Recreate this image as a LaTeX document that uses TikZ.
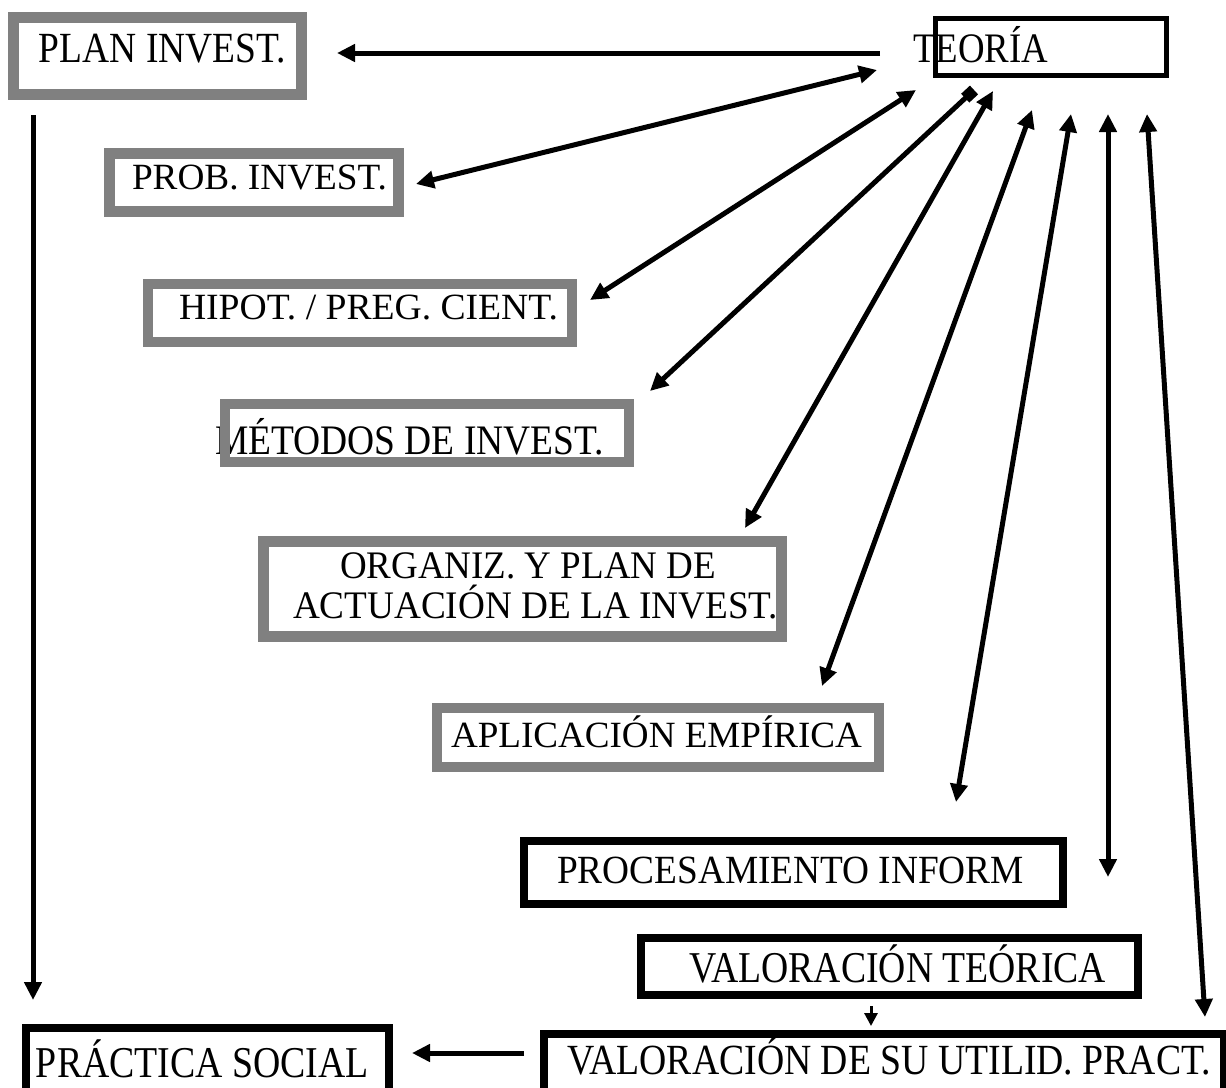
\documentclass[tikz,border=0pt]{standalone}
\usepackage{fontspec}
\setmainfont{Liberation Serif}
\usetikzlibrary{arrows.meta}

% text set at a given size and squeezed to a given width
\newcommand\fitt[3]{\resizebox{#1bp}{\height}{\fontsize{#2bp}{#2bp}\selectfont #3}}

\tikzset{
  txt/.style={anchor=base west, inner sep=0pt, outer sep=0pt},
  boxbase/.style={rectangle, inner sep=0pt, outer sep=0pt, draw},
  graybox/.style={boxbase, draw={rgb,255:red,128;green,128;blue,128}, line width=11bp},
  blackbox/.style={boxbase, draw=black, line width=8bp},
  conn/.style={line width=5bp, draw=black},
  one/.style={conn, -{Triangle[length=18bp, width=17bp]}},
  two/.style={conn, {Triangle[length=18bp, width=17bp]}-{Triangle[length=18bp, width=17bp]}},
}

\begin{document}
\begin{tikzpicture}[x=1bp, y=-1bp]
\useasboundingbox (0,0) rectangle (1226,1088);
\clip (0,0) rectangle (1226,1088);

% ---- labels ----
\node[txt] (tplan)  at (39,62)    {\fitt{247}{43}{PLAN INVEST.}};
\node[txt] (tteo)   at (913,62)   {\fitt{135}{42}{TEORÍA}};
\node[txt] (tprob)  at (132,189)  {\fitt{255}{37}{PROB. INVEST.}};
\node[txt] (thip)   at (179,319)  {\fitt{379}{37}{HIPOT. / PREG. CIENT.}};
\node[txt] (tmet)   at (215,454)  {\fitt{389}{42}{MÉTODOS DE INVEST.}};
\node[txt] (torg1)  at (340,578)  {\fitt{376}{39}{ORGANIZ. Y PLAN DE}};
\node[txt] (torg2)  at (293,618)  {\fitt{485}{39}{ACTUACIÓN DE LA INVEST.}};
\node[txt] (tapl)   at (451,747)  {\fitt{411}{37}{APLICACIÓN EMPÍRICA}};
\node[txt] (tpro)   at (557,883)  {\fitt{467}{40}{PROCESAMIENTO INFORM}};
\node[txt] (tvt)    at (689,982)  {\fitt{417}{44}{VALORACIÓN TEÓRICA}};
\node[txt] (tvu)    at (567,1074) {\fitt{644}{43}{VALORACIÓN DE SU UTILID. PRACT.}};
\node[txt] (tps)    at (36,1077)  {\fitt{333}{44}{PRÁCTICA SOCIAL}};

% ---- frames (drawn over the labels) ----
\node[graybox, minimum width=288bp, minimum height=77bp] (plan) at (157.5,56) {};
\node[graybox, minimum width=289bp, minimum height=58bp] (prob) at (254,182.5) {};
\node[graybox, line width=10bp, minimum width=424bp, minimum height=58bp] (hip) at (360,313) {};
\node[graybox, line width=10bp, minimum width=404bp, minimum height=58bp] (met) at (427,433) {};
\node[graybox, minimum width=518bp, minimum height=95bp] (org) at (522.5,589) {};
\node[graybox, line width=10bp, minimum width=442bp, minimum height=59bp] (apl) at (658,737.5) {};
\node[blackbox, line width=5bp, minimum width=231bp, minimum height=57bp] (teo) at (1051,47) {};
\node[blackbox, minimum width=539bp, minimum height=63bp] (pro) at (793.5,872.5) {};
\node[blackbox, minimum width=497bp, minimum height=57bp] (vt) at (889.5,966.5) {};
\node[blackbox, minimum width=680bp, minimum height=73bp] (vu) at (884,1070.5) {};
\node[blackbox, minimum width=363bp, minimum height=80bp] (ps) at (207.5,1068) {};

% ---- connector ends ----
\coordinate (teoL)  at (880,53);
\coordinate (planR) at (337,53);
\coordinate (teo1)  at (877,70);
\coordinate (prob1) at (416,184);
\coordinate (teo2)  at (916,90);
\coordinate (hip1)  at (590,300);
\coordinate (teo3)  at (974,90);
\coordinate (met1)  at (650,391);
\coordinate (teo4)  at (993,91);
\coordinate (org1)  at (745,528);
\coordinate (teo5)  at (1032,110);
\coordinate (apl1)  at (822,686);
\coordinate (teo6)  at (1071,114);
\coordinate (pro1)  at (956,802);
\coordinate (teo7)  at (1108,114);
\coordinate (pro2)  at (1108,877);
\coordinate (teo8)  at (1147,114);
\coordinate (vu1)   at (1205,1017);
\coordinate (planB) at (33,115);
\coordinate (ps1)   at (33,1000);
\coordinate (vt1)   at (871,1006);
\coordinate (vu2)   at (871,1026);
\coordinate (vuL)   at (524,1053);
\coordinate (psR)   at (412,1053);

% ---- connectors ----
\draw[one] (teoL) -- (planR);
\draw[two] (prob1) -- (teo1);
\draw[two] (hip1) -- (teo2);
\draw[conn, {Triangle[length=18bp, width=17bp]}-{Square[length=12bp, width=12bp]}] (met1) -- (teo3);
\draw[two] (org1) -- (teo4);
\draw[two] (apl1) -- (teo5);
\draw[two] (pro1) -- (teo6);
\draw[two] (pro2) -- (teo7);
\draw[two] (vu1) -- (teo8);
\draw[one] (planB) -- (ps1);
\draw[line width=3bp, -{Triangle[length=13bp, width=13bp]}] (vt1) -- (vu2);
\draw[one] (vuL) -- (psR);
\end{tikzpicture}
\end{document}
